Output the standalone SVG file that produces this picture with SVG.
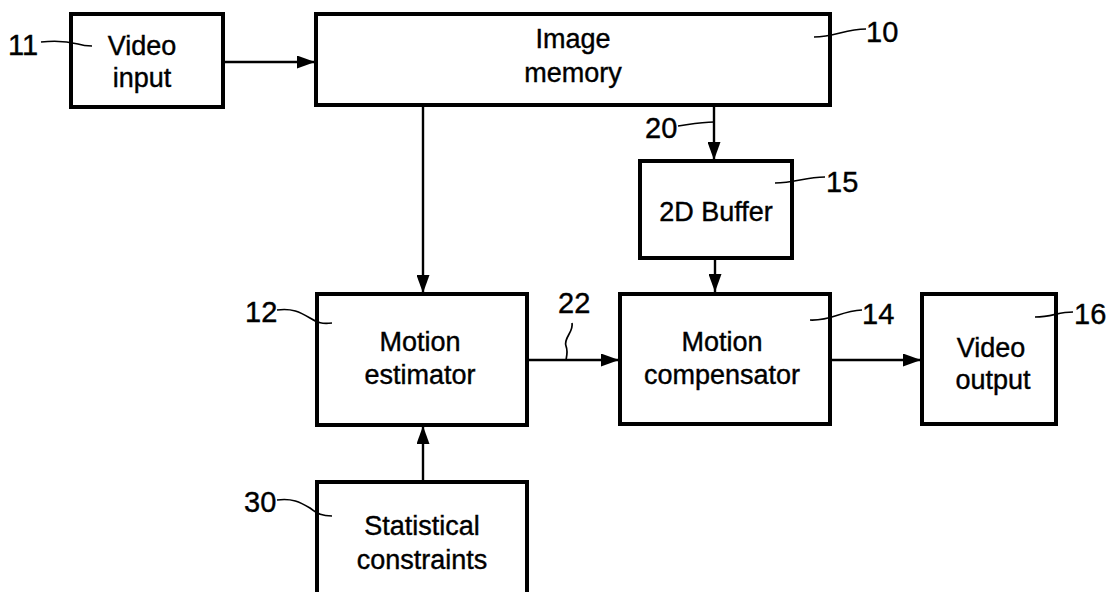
<svg xmlns="http://www.w3.org/2000/svg" width="1113" height="592" viewBox="0 0 1113 592">
<style>
.box{fill:#fff;stroke:#000;stroke-width:4}
.t{font-family:"Liberation Sans",Arial,sans-serif;font-size:27px;fill:#000;stroke:#000;stroke-width:0.4;text-anchor:middle}
.n{font-family:"Liberation Sans",Arial,sans-serif;font-size:29px;fill:#000;stroke:#000;stroke-width:0.4}
.c{fill:none;stroke:#000;stroke-width:2.4}
.ld{fill:none;stroke:#000;stroke-width:1.7}
</style>
<defs>
<marker id="ah" viewBox="0 0 18 13" refX="18" refY="6.5" markerWidth="18" markerHeight="13" markerUnits="userSpaceOnUse" orient="auto">
<path d="M0,0 L18,6.5 L0,13 Z" fill="#000"/>
</marker>
</defs>
<g id="connectors">
<line class="c" x1="222" y1="62" x2="315" y2="62" marker-end="url(#ah)"/>
<line class="c" x1="423" y1="106" x2="423" y2="293" marker-end="url(#ah)"/>
<line class="c" x1="714" y1="106" x2="714" y2="160" marker-end="url(#ah)"/>
<line class="c" x1="715" y1="258" x2="715" y2="292" marker-end="url(#ah)"/>
<line class="c" x1="527" y1="360" x2="619" y2="360" marker-end="url(#ah)"/>
<line class="c" x1="830" y1="360" x2="921" y2="360" marker-end="url(#ah)"/>
<line class="c" x1="423" y1="482" x2="423" y2="426" marker-end="url(#ah)"/>
<path class="ld" d="M678,126 C692,124 702,122 714,122"/>
<path class="ld" d="M572,323 C574,332 563,338 566,346 C568,351 567,355 566,360"/>
</g>
<g id="video-input">
<rect class="box" x="71" y="14" width="152" height="93"/>
<text class="t" x="142" y="55">Video</text>
<text class="t" x="142" y="87">input</text>
<text class="n" x="8" y="55">11</text>
<path class="ld" d="M41,42 C60,40 70,42 78,44 C84,46 88,46 92,46"/>
</g>
<g id="image-memory">
<rect class="box" x="316" y="14" width="514" height="91"/>
<text class="t" x="573" y="48">Image</text>
<text class="t" x="573" y="82">memory</text>
<text class="n" x="866" y="42">10</text>
<path class="ld" d="M814,37 C835,37 845,29 866,29"/>
</g>
<g id="buffer-2d">
<rect class="box" x="640" y="161" width="152" height="97"/>
<text class="t" x="716" y="221">2D Buffer</text>
<text class="n" x="826" y="192">15</text>
<path class="ld" d="M775,183 C795,183 805,177 825,177"/>
<text class="n" x="645" y="138">20</text>
</g>
<g id="motion-estimator">
<rect class="box" x="317" y="294" width="210" height="131"/>
<text class="t" x="420" y="351">Motion</text>
<text class="t" x="420" y="384">estimator</text>
<text class="n" x="245" y="322">12</text>
<path class="ld" d="M277,310 C292,308 300,312 310,318 C318,323 322,324 332,323"/>
<text class="n" x="558" y="313">22</text>
</g>
<g id="motion-compensator">
<rect class="box" x="620" y="294" width="210" height="130"/>
<text class="t" x="722" y="351">Motion</text>
<text class="t" x="722" y="384">compensator</text>
<text class="n" x="862" y="324">14</text>
<path class="ld" d="M810,320 C832,321 840,311 862,310"/>
</g>
<g id="video-output">
<rect class="box" x="922" y="294" width="134" height="130"/>
<text class="t" x="991" y="357">Video</text>
<text class="t" x="993" y="389">output</text>
<text class="n" x="1074" y="324">16</text>
<path class="ld" d="M1035,317 C1052,317 1058,312 1073,312"/>
</g>
<g id="statistical-constraints">
<rect class="box" x="317" y="482" width="210" height="116"/>
<text class="t" x="422" y="535">Statistical</text>
<text class="t" x="422" y="569">constraints</text>
<text class="n" x="244" y="512">30</text>
<path class="ld" d="M277,500 C292,498 300,502 310,508 C318,514 322,516 332,516"/>
</g>
</svg>
